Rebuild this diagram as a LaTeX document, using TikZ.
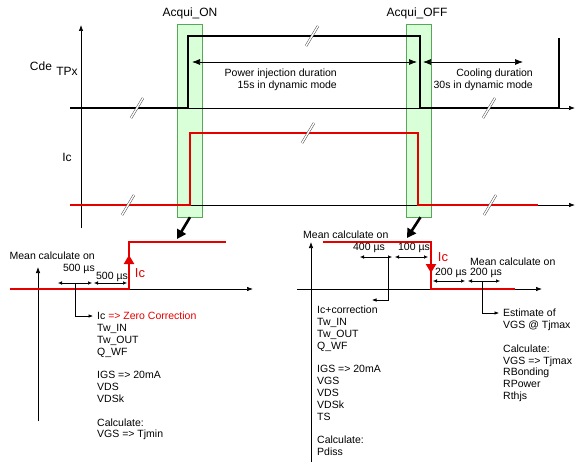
\documentclass[tikz,border=0pt]{standalone}
\usepackage{fontspec}
\setmainfont{Liberation Sans}
\usetikzlibrary{positioning,arrows.meta}
\tikzset {
    style band/.style={
        fill=green!15,
        draw=green!30!gray,
        thin,
        rectangle, % the acquisition window
        inner sep=0pt,
        minimum width=25pt,
        minimum height=193pt,
    },
    style sig/.style={
        draw=black,
        line width=1.6pt,
    },
    style red/.style={
        draw=red!90!black,
        line width=1.6pt,
    },
    style axis/.style={
        draw=black,
        line width=0.7pt,
        -{Latex[length=6pt,width=4.5pt]},
    },
    style dur/.style={
        draw=black,
        line width=0.7pt,
        {Latex[length=8pt,width=6pt]}-{Latex[length=8pt,width=6pt]},
    },
    style dim/.style={
        draw=black,
        line width=0.5pt,
        {Latex[length=4pt,width=3.5pt]}-{Latex[length=4pt,width=3.5pt]},
    },
    style brak/.style={
        draw=black,
        line width=0.6pt,
        -{Latex[length=4.5pt,width=3.5pt]},
    },
    style brk/.style={
        draw=gray!60!black,
        double=white,
        double distance=1.4pt,
        line width=0.5pt,
    },
    style big/.style={
        draw=black,
        line width=2.6pt,
        -{Triangle[length=9pt,width=10pt]},
    },
    style up/.style={
        draw=red!90!black,
        fill=red!90!black,
        line width=2.2pt,
        -{Triangle[length=9pt,width=10pt]},
    },
    style txt/.style={
        inner sep=0pt,
        font=\fontsize{10.5}{11.8}\selectfont,
        align=left,
    },
    style head/.style={
        inner sep=0pt,
        font=\fontsize{12}{14}\selectfont,
    },
}

\begin{document}
\begin{tikzpicture}[x=1pt, y=-1pt]
\useasboundingbox (0,0) rectangle (576,468);

% acquisition windows
\node[style band] (bandON) at (190,120.5) {};
\node[style band] (bandOFF) at (418.5,120.5) {};
\node[style head] (acqON) at (190,13) {Acqui\_ON};
\node[style head] (acqOFF) at (417,13) {Acqui\_OFF};

% axes and signals
\draw[style axis] (81,228) -- (81,25);
\draw[style axis] (70,108) -- (575,108);
\draw[style axis] (70,205) -- (575,205);
\draw[style sig] (70,108) -- (188,108) -- (188,36) -- (420,36) -- (420,108) -- (559,108) -- (559,38);
\draw[style red] (70,205) -- (190,205) -- (190,133) -- (418,133) -- (418,205) -- (538,205);
\foreach \x/\y in {137/108, 312/36, 489/108, 128/205, 308/133, 490/205}
    \draw[style brk] (\x,\y) ++(-6,10) -- ++(12,-20);

\node[style head] (cde) at (41,66) {Cde};
\node[style head] (tpx) at (67,71) {TPx};
\node[style head] (ic) at (67,157) {Ic};

\draw[style dur] (192,62) -- (417,62);
\draw[style dur] (423,62) -- (523,62);
\node[style txt, align=right, anchor=north east] (pwr) at (337,69) {Power injection duration\\15s in dynamic mode};
\node[style txt, align=right, anchor=north east] (cool) at (533,69) {Cooling duration\\30s in dynamic mode};

\coordinate (tipON) at (177,239);
\coordinate (tipOFF) at (407,238);
\draw[style big] (bandON.south) -- (tipON);
\draw[style big] ([xshift=2pt]bandOFF.south) -- (tipOFF);

% switch on zoom
\draw[style axis] (38,421) -- (38,267);
\draw[style axis] (10,289) -- (253,289);
\draw[style red] (10,289) -- (129,289) -- (129,242) -- (226,242);
\draw[style up] (129,274) -- (129,255);
\node[style head, text=red!90!black, font=\fontsize{13}{15}\selectfont] (icL) at (140,273) {Ic};
\node[style txt, align=right, anchor=north east] (meanL) at (95,252) {Mean calculate on\\500 µs};
\draw[style dim] (58,283) -- (92,283);
\draw[style dim] (94,283) -- (127,283);
\node[style txt] (d500) at (112,277) {500 µs};
\node[style txt, anchor=north west] (lstL) at (97,312) {Ic \textcolor{red!90!black}{=> Zero Correction}\\Tw\_IN\\Tw\_OUT\\Q\_WF\\[11.8pt]IGS => 20mA\\VDS\\VDSk\\[11.8pt]Calculate:\\VGS => Tjmin};
\coordinate (mL) at (75,283);
\draw[style brak] (mL) |- ([xshift=-4pt,yshift=-4pt]lstL.north west);

% switch off zoom
\draw[style axis] (311,462) -- (311,242);
\draw[style axis] (297,289) -- (542,289);
\draw[style red] (323,242) -- (431,242) -- (431,289) -- (515,289);
\draw[style up] (431,255) -- (431,273);
\node[style head, text=red!90!black, font=\fontsize{13}{15}\selectfont] (icR) at (443,257) {Ic};
\node[style txt, anchor=west] (meanM) at (303,235) {Mean calculate on};
\node[style txt] (d400) at (369,248) {400 µs};
\node[style txt] (d100) at (414,248) {100 µs};
\draw[style dim] (360,257) -- (392,257);
\draw[style dim] (395,257) -- (428,257);
\node[style txt, anchor=north west] (lstM) at (317,306) {Ic+correction\\Tw\_IN\\Tw\_OUT\\Q\_WF\\[11.8pt]IGS => 20mA\\VGS\\VDS\\VDSk\\TS\\[11.8pt]Calculate:\\Pdiss};
\coordinate (mM) at (388,257);
\coordinate (ptM) at (372,300);
\draw[style brak] (mM) |- (ptM);

\node[style txt, anchor=west] (meanR) at (470,262) {Mean calculate on};
\node[style txt] (d200a) at (451,273) {200 µs};
\node[style txt] (d200b) at (486,273) {200 µs};
\draw[style dim] (433,281) -- (465,281);
\draw[style dim] (468,281) -- (500,281);
\node[style txt, anchor=north west] (lstR) at (503,309) {Estimate of\\VGS @ Tjmax\\[11.8pt]Calculate:\\VGS => Tjmax\\RBonding\\RPower\\Rthjs};
\coordinate (mR) at (482,281);
\draw[style brak] (mR) |- ([xshift=-4pt,yshift=-4pt]lstR.north west);
\end{tikzpicture}
\end{document}
